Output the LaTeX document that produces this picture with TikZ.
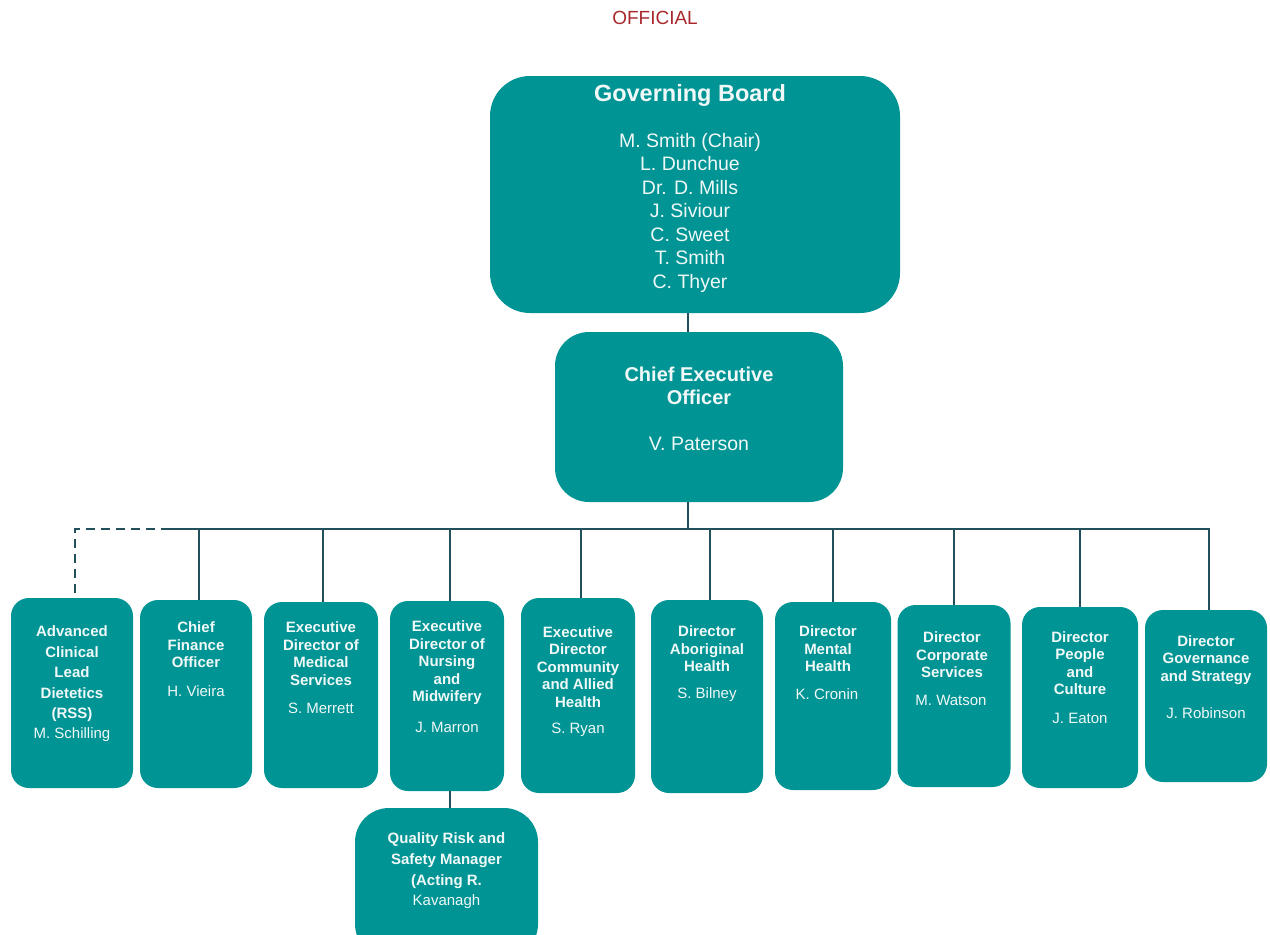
\documentclass[tikz,border=0pt]{standalone}
\usepackage{fontspec}
\setmainfont{Liberation Sans}
\definecolor{tealbox}{RGB}{0,148,148}
\definecolor{linecol}{RGB}{33,80,92}
\definecolor{offred}{RGB}{168,40,44}
\definecolor{txtcol}{RGB}{240,248,248}
\begin{document}
\begin{tikzpicture}[x=1pt,y=-1pt,
  box/.style={draw=none,fill=tealbox,rectangle,rounded corners=18pt,inner sep=0pt},
  conn/.style={draw=linecol,line width=2.8pt},
  dconn/.style={draw=linecol,line width=2.8pt,dash pattern=on 9pt off 6pt},
  ttl/.style={text=txtcol,font=\fontsize{15}{17.5}\selectfont\bfseries,align=center,inner sep=0pt},
  nm/.style={text=txtcol,font=\fontsize{15}{17.5}\selectfont,align=center,inner sep=0pt}]
\useasboundingbox (0,0) rectangle (1270,935);
\node[text=offred,font=\fontsize{19}{22}\selectfont,inner sep=0pt] (off) at (655,18) {OFFICIAL};

% top boxes
\node[box,rounded corners=40pt,minimum width=410pt,minimum height=237pt] (gb) at (695,194.5) {};
\node[box,rounded corners=34pt,minimum width=288pt,minimum height=170pt] (ceo) at (699,417) {};
\node[text=txtcol,font=\fontsize{23.5}{26}\selectfont\bfseries,inner sep=0pt] (gbt) at (690,95) {Governing Board};
\node[text=txtcol,font=\fontsize{19.5}{23.5}\selectfont,align=center,inner sep=0pt] (gbn) at (690,212.5) {M. Smith (Chair)\\L. Dunchue\\Dr. D. Mills\\J. Siviour\\C. Sweet\\T. Smith\\C. Thyer};
\node[text=txtcol,font=\fontsize{20}{23}\selectfont\bfseries,align=center,inner sep=0pt] (ceot) at (699,385.5) {Chief Executive\\Officer};
\node[text=txtcol,font=\fontsize{19.5}{23}\selectfont,inner sep=0pt] (ceon) at (699,444) {V. Paterson};

% bottom boxes
\node[box,minimum width=122pt,minimum height=190pt] (b1) at (72,693) {};
\node[box,minimum width=112pt,minimum height=188pt] (b2) at (196,694) {};
\node[box,minimum width=114pt,minimum height=186pt] (b3) at (321,695) {};
\node[box,minimum width=114pt,minimum height=190pt] (b4) at (447,696) {};
\node[box,minimum width=114pt,minimum height=195pt] (b5) at (578,695.5) {};
\node[box,minimum width=112pt,minimum height=193pt] (b6) at (707,696.5) {};
\node[box,minimum width=116pt,minimum height=188pt] (b7) at (833,696) {};
\node[box,minimum width=113pt,minimum height=182pt] (b8) at (954,696) {};
\node[box,minimum width=116pt,minimum height=181pt] (b9) at (1080,697.5) {};
\node[box,minimum width=122pt,minimum height=172pt] (b10) at (1206,696) {};
\node[box,rounded corners=34pt,minimum width=183pt,minimum height=150pt] (q) at (446.5,883) {};

% texts
\node[ttl,font=\fontsize{15}{20.5}\selectfont\bfseries] (t1) at (72,674) {Advanced\\Clinical\\Lead\\Dietetics\\(RSS)};
\node[nm] (n1) at (72,735) {M. Schilling};
\node[ttl] (t2) at (196,645) {Chief\\Finance\\Officer};
\node[nm] (n2) at (196,691) {H. Vieira};
\node[ttl] (t3) at (321,653.5) {Executive\\Director of\\Medical\\Services};
\node[nm] (n3) at (321,708) {S. Merrett};
\node[ttl] (t4) at (447,663) {Executive\\Director of\\Nursing\\and\\Midwifery};
\node[nm] (n4) at (447,727) {J. Marron};
\node[ttl] (t5) at (578,667) {Executive\\Director\\Community\\and Allied\\Health};
\node[nm] (n5) at (578,730) {S. Ryan};
\node[ttl] (t6) at (707,649) {Director\\Aboriginal\\Health};
\node[nm] (n6) at (707,695) {S. Bilney};
\node[ttl] (t7) at (828,649) {Director\\Mental\\Health};
\node[nm] (n7) at (827,694) {K. Cronin};
\node[ttl] (t8) at (952,655) {Director\\Corporate\\Services};
\node[nm] (n8) at (951,700) {M. Watson};
\node[ttl] (t9) at (1080,663) {Director\\People\\and\\Culture};
\node[nm] (n9) at (1080,718) {J. Eaton};
\node[ttl] (t10) at (1206,660) {Director\\Governance\\and Strategy};
\node[nm] (n10) at (1206,713) {J. Robinson};
\node[ttl,font=\fontsize{15}{20.7}\selectfont\bfseries] (qt) at (446.5,860.5) {Quality Risk and\\Safety Manager\\(Acting R.};
\node[nm] (qn) at (446.5,902) {Kavanagh};

% connectors
\coordinate (busL) at (170,529);
\coordinate (busR) at (1209,529);
\coordinate (dashL) at (75,529);
\draw[conn] (688,0 |- gb.south) -- (688,0 |- ceo.north);
\draw[conn] (688,0 |- ceo.south) -- (688,0 |- busL);
\draw[conn] (busL) -- (busR) -- (busR |- b10.north);
\draw[dconn] (busL) -- (dashL) -- (dashL |- b1.north);
\foreach \b/\x in {b2/199,b3/323,b4/450,b5/581,b6/710,b7/833,b8/954,b9/1080}{
  \draw[conn] (\x,0 |- busL) -- (\x,0 |- \b.north);
}
\draw[conn] (450,0 |- b4.south) -- (450,0 |- q.north);
\end{tikzpicture}
\end{document}
